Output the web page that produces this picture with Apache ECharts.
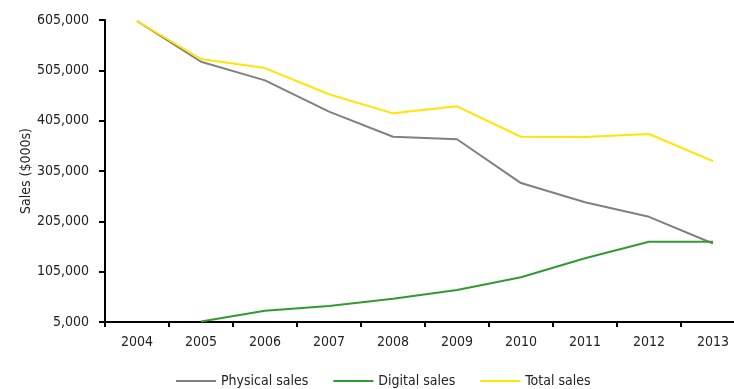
<!DOCTYPE html>
<html>
<head>
<meta charset="utf-8">
<script src="https://cdn.jsdelivr.net/npm/echarts@6/dist/echarts.min.js"></script>
<style>
html,body{margin:0;padding:0;background:#fff;}
#chart{width:734px;height:389px;}
</style>
</head>
<body>
<div id="chart"></div>
<script>
const years = ['2004','2005','2006','2007','2008','2009','2010','2011','2012','2013'];
const physicalSales = [603000, 522000, 485000, 423000, 373000, 368000, 281000, 243000, 214000, 161000];
const digitalSales = [null, 6000, 27500, 37000, 51000, 68500, 94000, 131500, 164500, 164500];
const totalSales = [603000, 527500, 509500, 457500, 419500, 433500, 373000, 372500, 378500, 324500];
const seriesNames = ['Physical sales', 'Digital sales', 'Total sales'];

const FONT = '"Liberation Sans Narrow", "Arial Narrow", "DejaVu Sans Condensed", sans-serif';
const chart = echarts.init(document.getElementById('chart'), null, {renderer: 'canvas'});
const mk = (name, data, color) => ({
  name, type: 'line', data, showSymbol: false, symbol: 'none',
  lineStyle: {color, width: 2}, itemStyle: {color},
  connectNulls: false, animation: false
});
chart.setOption({
  animation: false,
  backgroundColor: '#ffffff',
  grid: {left: 105, top: 20, width: 640, height: 302, containLabel: false, outerBoundsMode: 'none'},
  legend: {
    left: 171, top: 369,
    itemWidth: 40, itemHeight: 2, itemGap: 25,
    icon: 'rect',
    textStyle: {fontFamily: FONT, fontSize: 14, color: '#222'},
    data: seriesNames
  },
  xAxis: {
    type: 'category', data: years, boundaryGap: true,
    axisLine: {lineStyle: {color: '#000', width: 2}},
    axisTick: {show: true, length: 5, lineStyle: {color: '#000', width: 2}},
    axisLabel: {fontFamily: FONT, fontSize: 14, color: '#222', margin: 13},
    splitLine: {show: false}
  },
  yAxis: {
    type: 'value', min: 5000, max: 605000, interval: 100000,
    name: 'Sales ($000s)', nameLocation: 'middle', nameGap: 72, nameRotate: 90,
    nameMoveOverlap: false,
    nameTextStyle: {fontFamily: FONT, fontSize: 14, color: '#222'},
    axisLine: {show: true, lineStyle: {color: '#000', width: 2}},
    axisTick: {show: true, length: 6, lineStyle: {color: '#000', width: 2}},
    axisLabel: {fontFamily: FONT, fontSize: 14, color: '#222', margin: 16,
      formatter: v => v.toLocaleString('en-US')},
    splitLine: {show: false}
  },
  series: [
    mk(seriesNames[0], physicalSales, '#808080'),
    mk(seriesNames[1], digitalSales, '#339933'),
    mk(seriesNames[2], totalSales, '#FFE500')
  ]
});
</script>
</body>
</html>
